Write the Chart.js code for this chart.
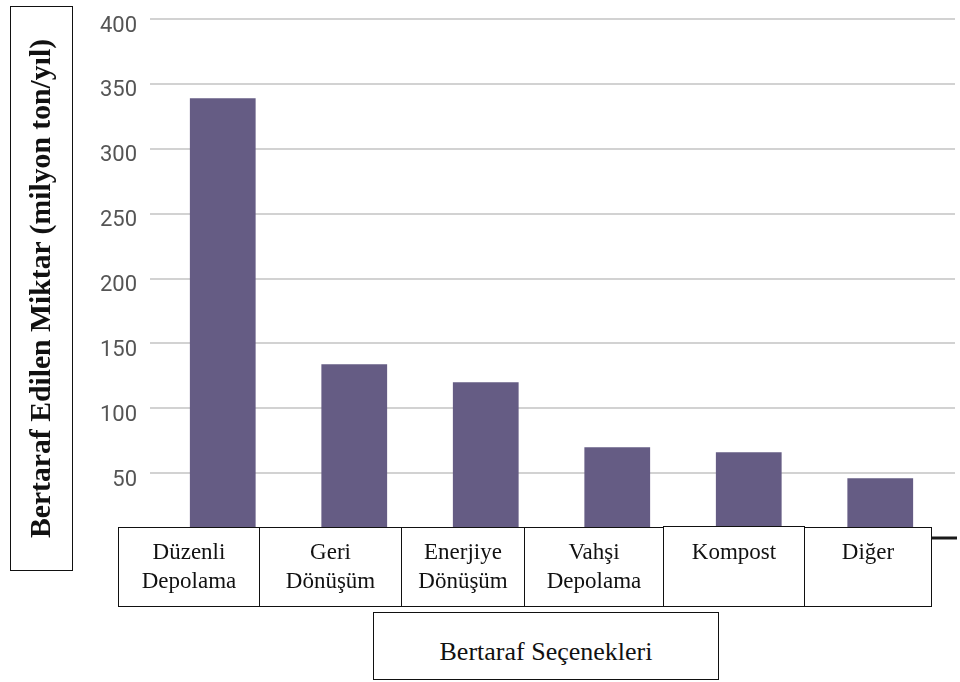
<!DOCTYPE html>
<html lang="tr">
<head>
<meta charset="utf-8">
<title>Bertaraf Seçenekleri</title>
<script src="https://cdn.jsdelivr.net/npm/chart.js@4"></script>
<style>
  html, body { margin: 0; padding: 0; background: #fff; }
  #wrap { position: relative; width: 960px; height: 682px; overflow: hidden; background: #fff; }
  #c { position: absolute; left: 0; top: 0; }
  .box { position: absolute; box-sizing: border-box; border: 1.5px solid #111; background: #fff; }
  .lbl { position: absolute; left: 0; right: 0; text-align: center; font-family: "Liberation Serif", "Times New Roman", serif; color: #111; font-size: 23px; line-height: 29px; white-space: nowrap; }
  #ytitle { position: absolute; font-family: "Liberation Serif", "Times New Roman", serif; font-weight: bold; font-size: 29.7px; color: #111; text-align: center; white-space: nowrap; }
  #xtitle { position: absolute; left: 0; right: 0; text-align: center; font-family: "Liberation Serif", "Times New Roman", serif; font-size: 26px; line-height: 26px; color: #111; white-space: nowrap; }
</style>
</head>
<body>
<div id="wrap">
  <canvas id="c" width="960" height="682"></canvas>
</div>
<script>
// ---- data ----
const categories = ['Düzenli Depolama', 'Geri Dönüşüm', 'Enerjiye Dönüşüm', 'Vahşi Depolama', 'Kompost', 'Diğer'];
const categoryLines = [['Düzenli', 'Depolama'], ['Geri', 'Dönüşüm'], ['Enerjiye', 'Dönüşüm'], ['Vahşi', 'Depolama'], ['Kompost'], ['Diğer']];
const values = [339, 134, 120, 70, 66, 46];
const yTickValues = [50, 100, 150, 200, 250, 300, 350, 400];
const yAxisTitle = 'Bertaraf Edilen Miktar (milyon ton/yıl)';
const xAxisTitle = 'Bertaraf Seçenekleri';

// ---- layout (positions of the label boxes, not data) ----
const boxLayout = [
  { l: 118, r: 259, t: 527 },
  { l: 259, r: 401, t: 527 },
  { l: 401, r: 524, t: 527 },
  { l: 524, r: 663, t: 527 },
  { l: 663, r: 804, t: 526 },
  { l: 804, r: 931, t: 527 }
];
const boxBottom = 607;

const gridPlugin = {
  id: 'extendedGrid',
  beforeDatasetsDraw(chart) {
    const y = chart.scales.y;
    const ctx = chart.ctx;
    ctx.save();
    ctx.strokeStyle = '#d2d2d2';
    ctx.lineWidth = 2;
    yTickValues.forEach(v => {
      const py = Math.round(y.getPixelForValue(v));
      ctx.beginPath();
      ctx.moveTo(150, py);
      ctx.lineTo(955, py);
      ctx.stroke();
    });
    ctx.restore();
  },
  afterDatasetsDraw(chart) {
    const y = chart.scales.y;
    const ctx = chart.ctx;
    ctx.save();
    ctx.strokeStyle = '#1a1a1a';
    ctx.lineWidth = 3;
    const py = Math.round(y.getPixelForValue(0));
    ctx.beginPath();
    ctx.moveTo(150, py);
    ctx.lineTo(957, py);
    ctx.stroke();
    ctx.restore();
  }
};

new Chart(document.getElementById('c'), {
  type: 'bar',
  data: {
    labels: categories,
    datasets: [{
      data: values,
      backgroundColor: '#655c84',
      borderWidth: 0,
      categoryPercentage: 1.0,
      barPercentage: 0.5
    }]
  },
  options: {
    responsive: false,
    devicePixelRatio: 1,
    animation: false,
    events: [],
    layout: { padding: { left: 0, right: 14, top: 19, bottom: 144 } },
    plugins: { legend: { display: false }, tooltip: { enabled: false } },
    scales: {
      x: { display: false },
      y: {
        min: 0,
        max: 400,
        border: { display: false },
        grid: { display: false, drawTicks: false },
        afterFit(scale) {
          scale.width = 157;
          scale.paddingTop = 0;
          scale.paddingBottom = 0;
        },
        ticks: {
          stepSize: 50,
          padding: 20,
          labelOffset: 7,
          color: '#555555',
          font: { family: "Roboto, 'DejaVu Sans', sans-serif", size: 22 },
          callback: (v) => (v === 0 ? null : String(v))
        }
      }
    }
  },
  plugins: [gridPlugin]
});

// ---- HTML label boxes (real text) ----
const wrap = document.getElementById('wrap');
categoryLines.forEach((lines, i) => {
  const b = boxLayout[i];
  const d = document.createElement('div');
  d.className = 'box';
  d.style.left = b.l + 'px';
  d.style.top = b.t + 'px';
  d.style.width = (b.r - b.l + 1) + 'px';
  d.style.height = (boxBottom - b.t) + 'px';
  const t = document.createElement('div');
  t.className = 'lbl';
  t.style.top = (538 - b.t - 2) + 'px';
  t.innerHTML = lines.join('<br>');
  d.appendChild(t);
  wrap.appendChild(d);
});

// y title box
const yb = document.createElement('div');
yb.className = 'box';
yb.style.left = '10px'; yb.style.top = '6px';
yb.style.width = '63px'; yb.style.height = '565px';
wrap.appendChild(yb);
const yt = document.createElement('div');
yt.id = 'ytitle';
yt.textContent = yAxisTitle;
yt.style.width = '565px';
yt.style.height = '63px';
yt.style.lineHeight = '63px';
yt.style.left = (40 - 282.5) + 'px';
yt.style.top = (288.5 - 31.5) + 'px';
yt.style.transform = 'rotate(-90deg)';
wrap.appendChild(yt);

// x title box
const xb = document.createElement('div');
xb.className = 'box';
xb.style.left = '373px'; xb.style.top = '612px';
xb.style.width = '346px'; xb.style.height = '68px';
const xt = document.createElement('div');
xt.id = 'xtitle';
xt.style.top = '26px';
xt.textContent = xAxisTitle;
xb.appendChild(xt);
wrap.appendChild(xb);
</script>
</body>
</html>
